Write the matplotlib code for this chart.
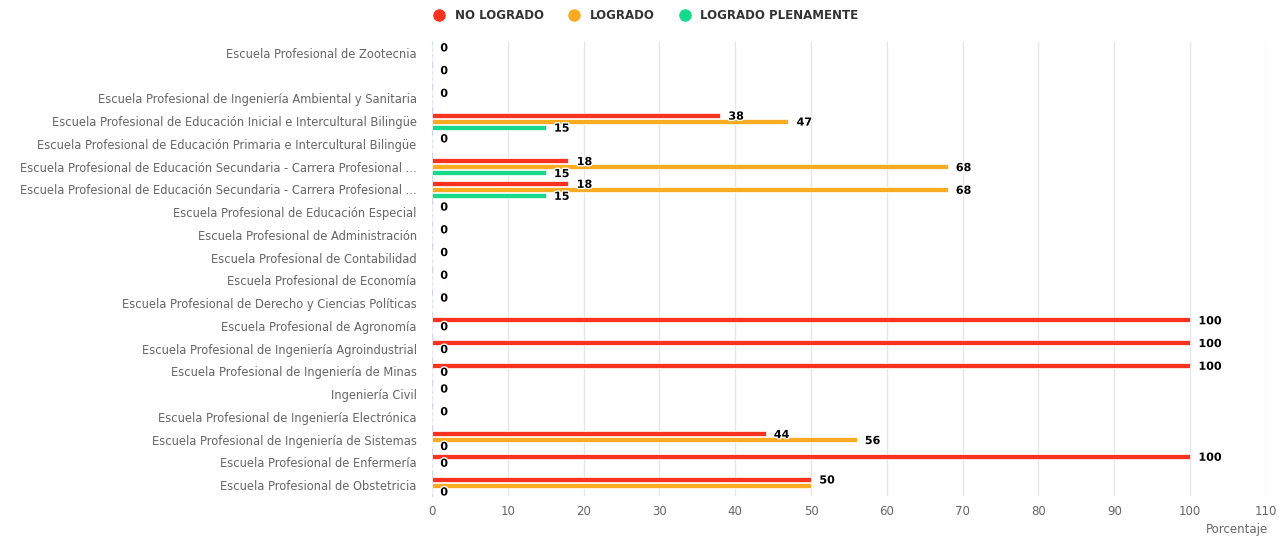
import matplotlib.pyplot as plt
import matplotlib.patheffects as pe
import numpy as np

escuelas = [
    "Escuela Profesional de Zootecnia",
    "",
    "Escuela Profesional de Ingeniería Ambiental y Sanitaria",
    "Escuela Profesional de Educación Inicial e Intercultural Bilingüe",
    "Escuela Profesional de Educación Primaria e Intercultural Bilingüe",
    "Escuela Profesional de Educación Secundaria - Carrera Profesional ...",
    "Escuela Profesional de Educación Secundaria - Carrera Profesional ...",
    "Escuela Profesional de Educación Especial",
    "Escuela Profesional de Administración",
    "Escuela Profesional de Contabilidad",
    "Escuela Profesional de Economía",
    "Escuela Profesional de Derecho y Ciencias Políticas",
    "Escuela Profesional de Agronomía",
    "Escuela Profesional de Ingeniería Agroindustrial",
    "Escuela Profesional de Ingeniería de Minas",
    "Ingeniería Civil",
    "Escuela Profesional de Ingeniería Electrónica",
    "Escuela Profesional de Ingeniería de Sistemas",
    "Escuela Profesional de Enfermería",
    "Escuela Profesional de Obstetricia",
]

no_logrado = [0, 0, 0, 38, 0, 18, 18, 0, 0, 0, 0, 0, 100, 100, 100, 0, 0, 44, 100, 50]
logrado = [0, 0, 0, 47, 0, 68, 68, 0, 0, 0, 0, 0, 0, 0, 0, 0, 0, 56, 0, 50]
logrado_plenamente = [0, 0, 0, 15, 0, 15, 15, 0, 0, 0, 0, 0, 0, 0, 0, 0, 0, 0, 0, 0]

series = [
    ("NO LOGRADO", no_logrado, "#fa3320"),
    ("LOGRADO", logrado, "#fbab22"),
    ("LOGRADO PLENAMENTE", logrado_plenamente, "#17d98b"),
]

fig = plt.figure(figsize=(12.86, 5.39), dpi=100)
ax = fig.add_axes([0.3359, 0.0789, 0.6485, 0.8439])

y = np.arange(len(escuelas))
offset = 0.264
bar_h = 0.22

labels = []
for i, (name, vals, color) in enumerate(series):
    pos = y + (i - 1) * offset
    ax.barh(pos, vals, height=bar_h, color=color, edgecolor="white",
            linewidth=0.5, label=name, zorder=3)
    for k, (yy, v) in enumerate(zip(pos, vals)):
        t = ax.annotate(str(v), (v, yy), xytext=(6, -1), textcoords="offset points",
                        ha="left", va="center", fontsize=8, fontweight="bold",
                        color="black", zorder=5,
                        path_effects=[pe.withStroke(linewidth=2, foreground="white")])
        labels.append((k, t))

ax.set_xlim(0, 110)
ax.set_ylim(len(escuelas) - 0.5, -0.5)
ax.set_xticks(np.arange(0, 111, 10))
ax.set_yticks(y)
ax.set_yticklabels(escuelas)

ax.grid(axis="x", color="#e6e6e6", linewidth=1, zorder=0)
ax.set_axisbelow(True)
for side in ["top", "right", "bottom"]:
    ax.spines[side].set_visible(False)
ax.spines["left"].set_color("#ccd6eb")
ax.tick_params(axis="y", length=0, labelsize=8.3, labelcolor="#666666", pad=11)
ax.tick_params(axis="x", length=0, labelsize=8.5, labelcolor="#666666", pad=6)

ax.set_xlabel("Porcentaje", color="#666666", fontsize=8.5)
ax.xaxis.set_label_coords(1.003, -0.058)
ax.xaxis.label.set_horizontalalignment("right")

fig.legend(loc="upper center", bbox_to_anchor=(0.5, 1.003), ncol=3, frameon=False,
           handles=[plt.Line2D([], [], marker="o", linestyle="", markersize=8,
                               color=c, label=n) for n, _, c in series],
           prop={"weight": "bold", "size": 8.5}, handletextpad=0.3,
           columnspacing=1.6, labelcolor="#333333")

# hide data labels that collide with ones already placed
fig.canvas.draw()
renderer = fig.canvas.get_renderer()
kept = []
for k, t in labels:
    bb = t.get_window_extent(renderer).expanded(1.0, 1.5)
    if any(bb.overlaps(o) for o in kept):
        t.set_visible(False)
    else:
        kept.append(bb)

fig.savefig("out.png", dpi=100)
